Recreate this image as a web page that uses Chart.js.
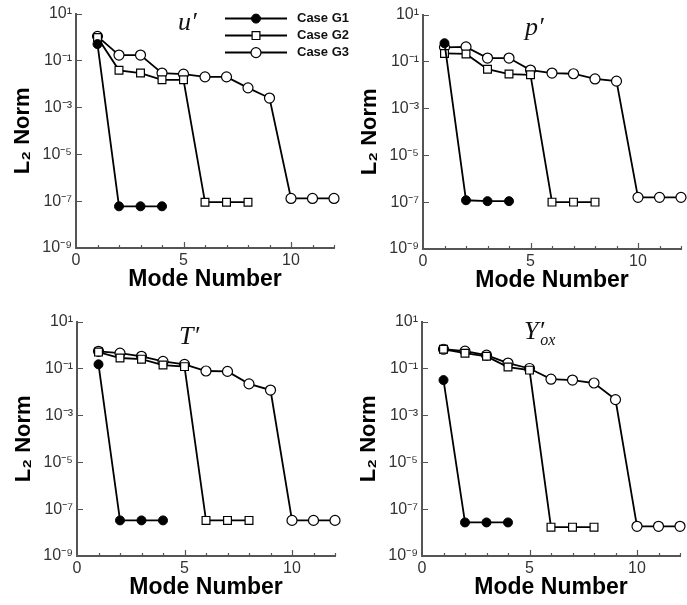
<!DOCTYPE html>
<html>
<head>
<meta charset="utf-8">
<script src="https://cdn.jsdelivr.net/npm/chart.js@4.4.0/dist/chart.umd.min.js"></script>
<style>
  html, body { margin: 0; padding: 0; background: #fff; overflow: hidden; }
  body { width: 687px; height: 605px; position: relative; }
  canvas { position: absolute; }
</style>
</head>
<body>
<canvas id="chartU" width="360" height="302" style="left:0px;top:0px;z-index:2"></canvas>
<canvas id="chartP" width="360" height="302" style="left:347px;top:1px;z-index:1"></canvas>
<canvas id="chartT" width="360" height="302" style="left:1px;top:308px;z-index:2"></canvas>
<canvas id="chartY" width="360" height="302" style="left:346px;top:308px;z-index:1"></canvas>
<script>
// mode numbers for each grid case
const modesG1 = [1, 2, 3, 4];
const modesG2 = [1, 2, 3, 4, 5, 6, 7, 8];
const modesG3 = [1, 2, 3, 4, 5, 6, 7, 8, 9, 10, 11, 12];

// u'
const uG1 = [0.5, 6e-8, 6e-8, 6e-8];
const uG2 = [0.95, 0.038, 0.029, 0.015, 0.015, 9e-8, 9e-8, 9e-8];
const uG3 = [1.07, 0.17, 0.17, 0.029, 0.026, 0.02, 0.02, 0.0068, 0.0025, 1.3e-7, 1.3e-7, 1.3e-7];

// p'
const pG1 = [0.6, 1.2e-7, 1.1e-7, 1.1e-7];
const pG2 = [0.22, 0.21, 0.047, 0.029, 0.027, 1e-7, 1e-7, 1e-7];
const pG3 = [0.4, 0.42, 0.14, 0.14, 0.043, 0.032, 0.03, 0.018, 0.0145, 1.6e-7, 1.6e-7, 1.6e-7];

// T'
const tG1 = [0.15, 3.3e-8, 3.3e-8, 3.3e-8];
const tG2 = [0.5, 0.28, 0.25, 0.14, 0.12, 3.3e-8, 3.3e-8, 3.3e-8];
const tG3 = [0.54, 0.45, 0.33, 0.2, 0.15, 0.078, 0.075, 0.022, 0.012, 3.3e-8, 3.3e-8, 3.3e-8];

// Y'ox
const yG1 = [0.032, 2.7e-8, 2.7e-8, 2.7e-8];
const yG2 = [0.66, 0.45, 0.33, 0.115, 0.085, 1.7e-8, 1.7e-8, 1.7e-8];
const yG3 = [0.66, 0.55, 0.37, 0.17, 0.1, 0.035, 0.032, 0.024, 0.0047, 1.85e-8, 1.85e-8, 1.85e-8];

const caseLabels = ['Case G1', 'Case G2', 'Case G3'];
const xTicks = [0, 5, 10];
const yTicks = [1e-9, 1e-7, 1e-5, 1e-3, 1e-1, 10];

const supMap = { '-': '\u207B', '0': '\u2070', '1': '\u00B9', '2': '\u00B2', '3': '\u00B3',
  '4': '\u2074', '5': '\u2075', '6': '\u2076', '7': '\u2077', '8': '\u2078', '9': '\u2079' };

function powerLabel(v) {
    const e = Math.round(Math.log10(v));
    return '10' + String(e).split('').map(c => supMap[c]).join('');
}

function toPoints(modes, vals) {
    return modes.map((m, i) => ({ x: m, y: vals[i] }));
}

// titles, inward tick marks and the legend
const panelDecor = {
    id: 'panelDecor',
    afterDraw(chart, args, opts) {
        const { ctx, chartArea: a, scales } = chart;
        ctx.save();

        ctx.strokeStyle = '#555';
        ctx.lineWidth = 1.2;
        ctx.beginPath();
        yTicks.forEach(v => {
            const py = Math.round(scales.y.getPixelForValue(v)) + 0.5;
            ctx.moveTo(a.left, py);
            ctx.lineTo(a.left + 6, py);
        });
        for (let m = 1; m <= 12; m++) {
            const px = Math.round(scales.x.getPixelForValue(m)) + 0.5;
            ctx.moveTo(px, a.bottom);
            ctx.lineTo(px, a.bottom - (m % 5 === 0 ? 6 : 3));
        }
        ctx.stroke();

        ctx.fillStyle = '#111';
        ctx.textBaseline = 'alphabetic';
        ctx.textAlign = 'left';
        ctx.font = 'italic 26px "Liberation Serif", "DejaVu Serif", serif';
        const tx = a.left + 102;
        const ty = a.top + opts.titleDy;
        ctx.fillText(opts.title, tx, ty);
        if (opts.sub) {
            const w = ctx.measureText(opts.title).width;
            ctx.font = 'italic 16px "Liberation Serif", "DejaVu Serif", serif';
            ctx.fillText(opts.sub, tx + w - 4, ty + 6);
        }

        if (opts.legend) {
            ctx.font = 'bold 13px "Liberation Sans", Arial, sans-serif';
            ctx.textBaseline = 'middle';
            chart.data.datasets.forEach((ds, i) => {
                const ly = a.top + 5 + i * 17;
                ctx.strokeStyle = '#000';
                ctx.lineWidth = 2;
                ctx.beginPath();
                ctx.moveTo(a.left + 149, ly);
                ctx.lineTo(a.left + 211, ly);
                ctx.stroke();
                ctx.fillStyle = ds.pointBackgroundColor;
                ctx.strokeStyle = '#000';
                ctx.lineWidth = ds.pointBorderWidth;
                Chart.helpers.drawPoint(ctx, {
                    pointStyle: ds.pointStyle,
                    radius: ds.pointRadius,
                    rotation: 0,
                    borderWidth: ds.pointBorderWidth
                }, a.left + 180, ly);
                ctx.fillStyle = '#111';
                ctx.fillText(ds.label, a.left + 221, ly);
            });
        }
        ctx.restore();
    }
};

function makeChart(id, title, sub, titleDy, g1, g2, g3, legend) {
    const ctx = document.getElementById(id).getContext('2d');
    return new Chart(ctx, {
        type: 'line',
        data: {
            datasets: [
                {
                    label: caseLabels[0],
                    data: toPoints(modesG1, g1),
                    borderColor: '#000',
                    borderWidth: 1.8,
                    pointStyle: 'circle',
                    pointRadius: 4.5,
                    pointBackgroundColor: '#000',
                    pointBorderColor: '#000',
                    pointBorderWidth: 1,
                    clip: false
                },
                {
                    label: caseLabels[1],
                    data: toPoints(modesG2, g2),
                    borderColor: '#000',
                    borderWidth: 1.8,
                    pointStyle: 'rect',
                    pointRadius: 5.5,
                    pointBackgroundColor: '#fff',
                    pointBorderColor: '#000',
                    pointBorderWidth: 1.2,
                    clip: false
                },
                {
                    label: caseLabels[2],
                    data: toPoints(modesG3, g3),
                    borderColor: '#000',
                    borderWidth: 1.8,
                    pointStyle: 'circle',
                    pointRadius: 5,
                    pointBackgroundColor: '#fff',
                    pointBorderColor: '#000',
                    pointBorderWidth: 1.2,
                    clip: false
                }
            ]
        },
        options: {
            responsive: false,
            animation: false,
            layout: { padding: { top: 12, right: 26, left: 0, bottom: 0 } },
            plugins: {
                legend: { display: false },
                tooltip: { enabled: false },
                panelDecor: { title: title, sub: sub, titleDy: titleDy, legend: legend }
            },
            scales: {
                x: {
                    type: 'linear',
                    min: 0,
                    max: 12,
                    afterBuildTicks: s => { s.ticks = xTicks.map(v => ({ value: v })); },
                    afterFit: s => { s.height = 54; },
                    grid: { display: false, drawTicks: false, tickLength: 0 },
                    border: { color: '#555', width: 2 },
                    ticks: {
                        font: { family: 'Liberation Sans', size: 16 },
                        color: '#333',
                        padding: 3
                    },
                    title: {
                        display: true,
                        text: 'Mode Number',
                        font: { family: 'Liberation Sans', size: 23, weight: 'bold' },
                        color: '#000',
                        padding: { top: 0, bottom: 9 }
                    }
                },
                y: {
                    type: 'logarithmic',
                    min: 1e-9,
                    max: 10,
                    afterBuildTicks: s => { s.ticks = yTicks.map(v => ({ value: v })); },
                    afterFit: s => { s.width = 76; },
                    grid: { display: false, drawTicks: false, tickLength: 0 },
                    border: { color: '#555', width: 2 },
                    ticks: {
                        font: { family: 'Liberation Sans', size: 16 },
                        color: '#333',
                        padding: 4,
                        callback: v => powerLabel(v)
                    },
                    title: {
                        display: true,
                        text: 'L\u2082 Norm',
                        font: { family: 'Liberation Sans', size: 22, weight: 'bold' },
                        color: '#000',
                        padding: { top: 10, bottom: 0 }
                    }
                }
            }
        },
        plugins: [panelDecor]
    });
}

makeChart('chartU', 'u\u2032', '', 16, uG1, uG2, uG3, true);
makeChart('chartP', 'p\u2032', '', 20, pG1, pG2, pG3, false);
makeChart('chartT', 'T\u2032', '', 22, tG1, tG2, tG3, false);
makeChart('chartY', 'Y\u2032', 'ox', 17, yG1, yG2, yG3, false);
</script>
</body>
</html>
